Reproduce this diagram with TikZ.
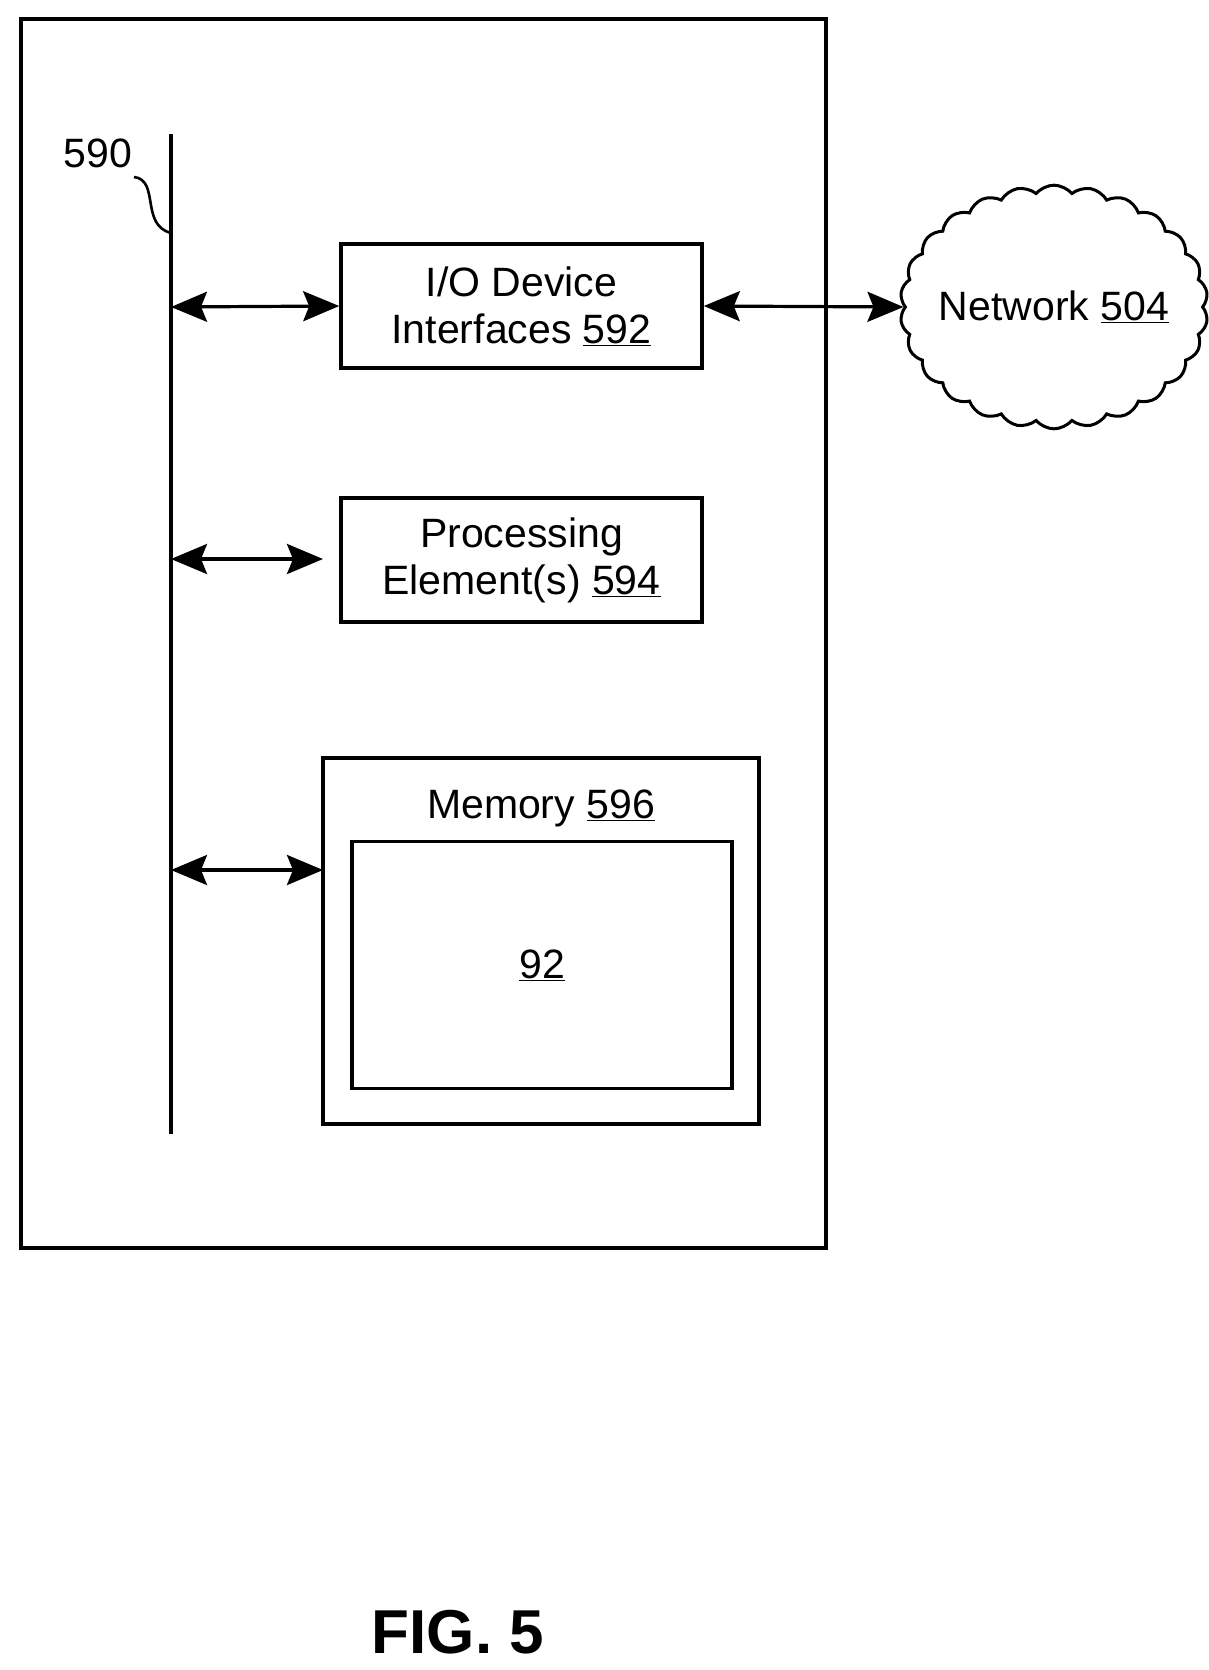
\documentclass[tikz,border=0pt]{standalone}
\usepackage{fontspec}
\setmainfont{Liberation Sans}
\usetikzlibrary{shapes.symbols,arrows.meta}
\begin{document}
\begin{tikzpicture}[x=1pt,y=-1pt,
  >={Stealth[length=36pt,width=30pt,inset=6pt]},
  box/.style={draw,line width=3.6pt,inner sep=0pt},
  lbl/.style={font=\fontsize{41}{47}\selectfont,align=center},
  arr/.style={line width=3.2pt,<->}]
\useasboundingbox (0,0) rectangle (1209,1670);
\draw[box] (21,19) rectangle (826,1248);
\coordinate (bt) at (171,134); \coordinate (bb) at (171,1134);
\draw[line width=3.6pt] (bt) -- (bb);
\node[lbl,anchor=center] (l590) at (98,153) {590};
\coordinate (s1) at (134,177); \coordinate (s2) at (171,233);
\draw[line width=2.6pt] (s1) .. controls (160,180) and (140,225) .. (s2);
\node[box,minimum width=361pt,minimum height=124pt,lbl] (io) at (521.5,306) {I/O Device\\Interfaces \underline{592}};
\node[box,minimum width=361pt,minimum height=124pt,lbl] (pe) at (521.5,560) {Processing\\Element(s) \underline{594}};
\draw[box] (323,758) rectangle (759,1124);
\node[lbl] (mt) at (541,808) {Memory \underline{596}};
\node[box,minimum width=380pt,minimum height=247pt,lbl] (in) at (542,965) {\underline{92}};
\node[cloud,draw,line width=3pt,cloud puffs=26,cloud puff arc=100,aspect=1.3,minimum width=250pt,minimum height=195pt,lbl,inner sep=-10pt] (net) at (1054,307) {Network \underline{504}};
\coordinate (a1) at (171,307); \coordinate (a2) at (171,559); \coordinate (a3) at (171,870);
\coordinate (pe1) at (323,559); \coordinate (me1) at (323,870);
\draw[arr] (a1) -- (io.west);
\draw[arr] (a2) -- (pe1);
\draw[arr] (a3) -- (me1);
\draw[arr] (io.east) -- (net.west);
\node[font=\bfseries\fontsize{62}{70}\selectfont] (fig) at (458,1632) {FIG. 5};
\end{tikzpicture}
\end{document}
